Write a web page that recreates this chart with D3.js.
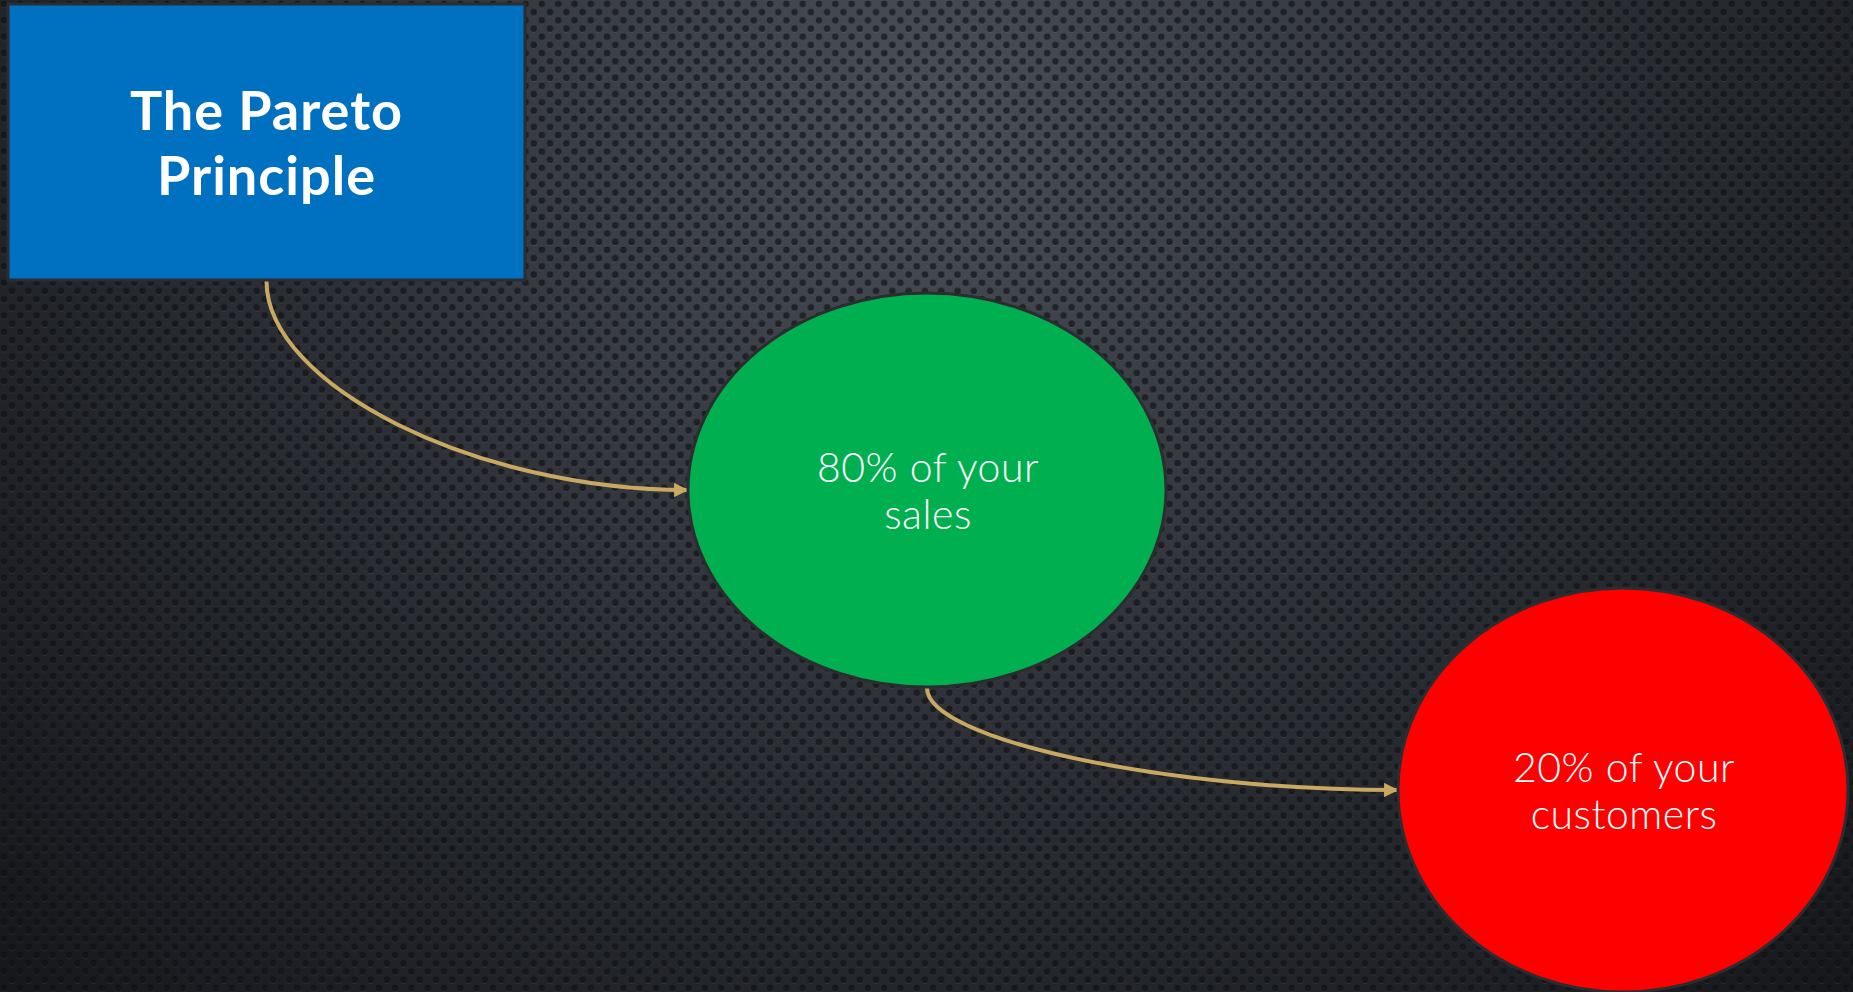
<!DOCTYPE html>
<html><head><meta charset="utf-8">
<script src="https://cdn.jsdelivr.net/npm/d3@7"></script>
<style>html,body{margin:0;padding:0;background:#222;overflow:hidden}</style>
</head><body>
<script>
// ---- data ----
const titleLines = ["The Pareto", "Principle"];
const nodeLabels = [["80% of your", "sales"], ["20% of your", "customers"]];
const links = [["title", 0], [0, 1]];

// ---- layout ----
const W = 1853, H = 992;
const svg = d3.select("body").append("svg").attr("width", W).attr("height", H);
const defs = svg.append("defs");

const bg = defs.append("radialGradient").attr("id", "bg")
  .attr("gradientUnits", "userSpaceOnUse").attr("cx", 930).attr("cy", 120).attr("r", 1250);
bg.append("stop").attr("offset", 0).attr("stop-color", "#4a4f58");
bg.append("stop").attr("offset", 0.55).attr("stop-color", "#2a2d33");
bg.append("stop").attr("offset", 1).attr("stop-color", "#16181c");

const pat = defs.append("pattern").attr("id", "dots").attr("patternUnits", "userSpaceOnUse")
  .attr("width", 16.3).attr("height", 16.4);
[[4, 4], [12.15, 12.2]].forEach(([cx, cy]) => {
  pat.append("circle").attr("cx", cx).attr("cy", cy + 0.8).attr("r", 3.3).attr("fill", "rgba(255,255,255,0.07)");
  pat.append("circle").attr("cx", cx).attr("cy", cy).attr("r", 3.3).attr("fill", "rgba(5,6,10,0.62)");
});

const mk = defs.append("marker").attr("id", "arrow").attr("viewBox", "0 0 10 10")
  .attr("refX", 9).attr("refY", 5).attr("markerWidth", 3.6).attr("markerHeight", 3.6)
  .attr("markerUnits", "strokeWidth").attr("orient", "auto");
mk.append("path").attr("d", "M0,0 L10,5 L0,10 Z").attr("fill", "#c9a961");

svg.append("rect").attr("width", W).attr("height", H).attr("fill", "url(#bg)");
svg.append("rect").attr("width", W).attr("height", H).attr("fill", "url(#dots)");

// shape geometry
const box = {x: 8, y: 4, w: 517, h: 276};
const ellipses = [
  {cx: 927, cy: 490, rx: 239, ry: 197, fill: "#00b050"},
  {cx: 1623, cy: 790, rx: 225, ry: 202, fill: "#ff0000"}
];

function anchorOut(k) {
  if (k === "title") return [box.x + box.w / 2, box.y + box.h + 1];
  const e = ellipses[k]; return [e.cx, e.cy + e.ry + 1];
}
function anchorIn(k) { const e = ellipses[k]; return [e.cx - e.rx - 1, e.cy]; }

// connectors (curved elbow: vertical start, horizontal end)
svg.append("g").selectAll("path").data(links).join("path")
  .attr("d", ([a, b]) => {
    const [x1, y1] = anchorOut(a), [x2, y2] = anchorIn(b);
    const p = d3.path();
    p.moveTo(x1, y1);
    p.bezierCurveTo(x1, (y1 + y2) / 2, (x1 + x2) / 2, y2, x2, y2);
    return p.toString();
  })
  .attr("fill", "none").attr("stroke", "#c9a961").attr("stroke-width", 4)
  .attr("marker-end", "url(#arrow)");

// title box
svg.append("rect").attr("x", box.x).attr("y", box.y).attr("width", box.w).attr("height", box.h)
  .attr("fill", "#0070c0").attr("stroke", "#2b2d30").attr("stroke-width", 3);
svg.append("text").attr("x", box.x + box.w / 2).attr("text-anchor", "middle")
  .attr("font-family", "Lato, 'Open Sans', sans-serif").attr("font-weight", 700)
  .attr("font-size", 54).attr("letter-spacing", 1).attr("fill", "#fff")
  .selectAll("tspan").data(titleLines).join("tspan")
  .attr("x", box.x + box.w / 2).attr("y", (d, i) => 130 + i * 65).text(d => d);

// ellipses
const g = svg.append("g").selectAll("g").data(ellipses).join("g");
g.append("ellipse").attr("cx", d => d.cx).attr("cy", d => d.cy).attr("rx", d => d.rx).attr("ry", d => d.ry)
  .attr("fill", d => d.fill).attr("stroke", "#2b2d30").attr("stroke-width", 3);
g.append("text").attr("text-anchor", "middle")
  .attr("font-family", "Lato, 'Open Sans', sans-serif").attr("font-weight", 300)
  .attr("font-size", 41).attr("letter-spacing", 0.5).attr("fill", "#fff")
  .selectAll("tspan").data((d, i) => nodeLabels[i].map(t => ({t, d})))
  .join("tspan").attr("x", o => o.d.cx + 1).attr("y", (o, j) => o.d.cy - 8 + j * 47).text(o => o.t);
</script>
</body></html>
